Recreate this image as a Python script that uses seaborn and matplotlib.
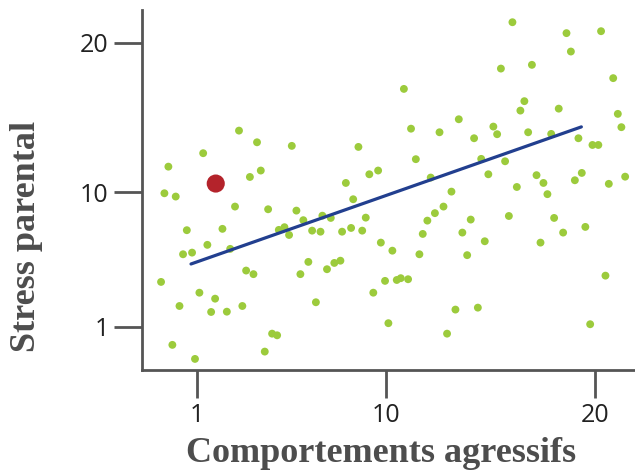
import pandas as pd
import matplotlib
matplotlib.use("Agg")
import matplotlib.pyplot as plt
import seaborn as sns

# values (axis units match the tick labels)
aggr = [3.00, 3.86, 5.52, 1.29, 8.70, -0.37, 4.04, 3.52, 9.22, 9.64, 8.10, -0.56, -0.02, 8.45,
        16.05, 18.63, 20.28, 18.84, 15.50, 16.98, 20.86, 10.87, 16.62, 16.43, 18.26, 21.08, 21.25,
        11.21, 13.49, 12.57, 15.14, 15.32, 16.80, 14.22, 17.90, 19.20, 19.87, 20.15, 11.44, 14.56,
        15.70, 12.15, 14.90, 17.20, 17.53, 19.36, 19.03, 21.43, 20.65, 13.14, 16.26, 17.72,
        2.81, 4.39, 5.74, 6.07, 6.98, 7.38, 9.05, 0.51, 2.21, 4.90, 5.17, 5.39, 6.49, 6.89, 7.92,
        8.35, 8.88, 9.77, 10.32, 1.49, 0.33, 0.76, 2.58, 6.31, 3.34, 3.69, 5.93, 7.20, 7.55, 7.84,
        -0.72, 1.11, 1.86, 9.97, 9.41, 0.16, 1.67, 2.42, 3.16, 6.67, 10.13, 4.58, 4.82, -0.18, 4.23, 0.90,
        12.76, 12.35, 11.99, 14.06, 15.88, 18.04, 11.77, 13.66, 14.73, 18.47, 19.53, 17.39, 11.61,
        13.89, 10.53, 10.72, 11.07, 20.49, 13.33, 14.40, 19.76, 12.93]
stress = [14.13, 13.35, 13.11, 12.62, 13.04, 11.72, 11.46, 11.03, 11.21, 11.46, 10.63, 9.94, 9.72, 9.54,
          21.38, 20.65, 20.78, 19.42, 18.28, 18.53, 17.64, 16.92, 16.10, 15.47, 15.60, 15.25, 14.36,
          14.26, 14.89, 14.02, 14.40, 13.89, 14.02, 13.62, 13.91, 13.62, 13.17, 13.17, 12.22, 12.24,
          12.08, 10.99, 11.21, 11.15, 10.63, 11.30, 10.81, 11.05, 10.57, 10.05, 10.36, 9.88,
          9.05, 8.87, 8.78, 8.14, 8.44, 8.29, 8.31, 7.47, 7.56, 7.49, 7.67, 7.15, 7.44, 7.37, 7.37,
          7.62, 7.44, 6.64, 6.10, 6.49, 5.86, 5.97, 6.22, 5.35, 4.77, 4.53, 4.53, 4.86, 5.28, 5.43,
          4.01, 3.29, 2.89, 4.08, 3.29, 2.40, 2.00, 2.02, 2.40, 2.65, 1.25, 0.55, 0.44, -0.20, -0.65, -1.14,
          9.05, 8.61, 8.11, 8.18, 8.42, 8.29, 7.22, 7.31, 6.73, 7.31, 7.69, 6.64, 5.86,
          5.80, 4.14, 4.26, 4.19, 4.43, 2.16, 2.29, 1.18, 0.55]

highlight_x = [1.89]
highlight_y = [10.59]

trend_x = [0.71, 19.34]
trend_y = [5.21, 14.38]

ticks = [1, 10, 20]
tick_labels = ["1", "10", "20"]

df = pd.DataFrame({"aggr": aggr, "stress": stress})

sns.set_style("white")
plt.rcParams['font.family'] = ['Open Sans', 'DejaVu Sans']

fig = plt.figure(figsize=(6.35, 4.7), dpi=100)
ax = fig.add_axes([0.2236, 0.2128, 0.7764, 0.766])

sns.scatterplot(data=df, x="aggr", y="stress", color="#9ccb3c", s=32, edgecolor="none", ax=ax)
sns.scatterplot(x=highlight_x, y=highlight_y, color="#b4232b", s=170, edgecolor="none", ax=ax)
sns.lineplot(x=trend_x, y=trend_y, color="#223f8f", linewidth=2.3, ax=ax)

ax.set_xlim(-1.63, 21.9)
ax.set_ylim(-1.88, 22.2)
ax.set_xticks(ticks)
ax.set_xticklabels(tick_labels)
ax.set_yticks(ticks)
ax.set_yticklabels(tick_labels)

sns.despine(ax=ax)
for side in ["left", "bottom"]:
    ax.spines[side].set_color("#555555")
    ax.spines[side].set_linewidth(2)
ax.tick_params(axis="both", bottom=True, left=True, direction="out", length=20, width=2,
               color="#555555", labelsize=18, labelcolor="#222222", pad=4)

lab_font = dict(family="Liberation Serif", fontweight="bold", fontsize=26, color="#4d4d4d")
ax.set_xlabel("Comportements agressifs", **lab_font)
ax.set_ylabel("Stress parental", **lab_font)
ax.xaxis.set_label_coords(0.485, -0.187)
ax.yaxis.set_label_coords(-0.20, 0.37)

plt.savefig("out.png", dpi=100)
